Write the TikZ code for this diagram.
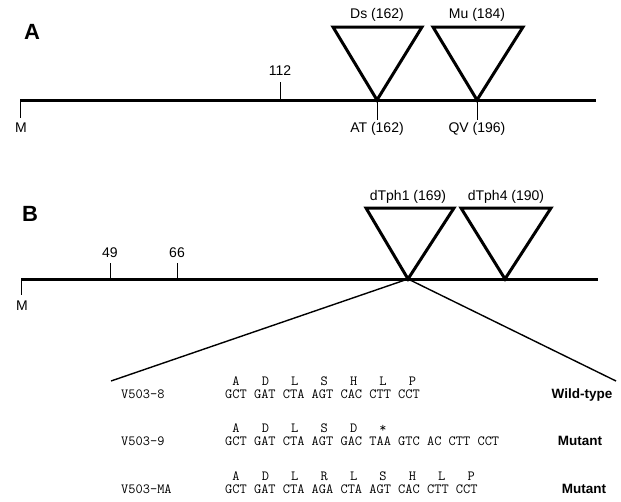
\documentclass[tikz,border=0pt]{standalone}
\usepackage{fontspec}
\setmainfont{Liberation Sans}
\usetikzlibrary{calc}

\begin{document}
\begin{tikzpicture}[x=1pt,y=-1pt,
    gene/.style={line width=3pt},
    insert/.style={line width=3pt, line join=miter},
    tick/.style={line width=1pt},
    fan/.style={line width=1.4pt},
    lbl/.style={font=\fontsize{14}{16}\selectfont, inner sep=0pt},
    panel/.style={font=\fontsize{22}{24}\selectfont\bfseries, inner sep=0pt},
    seq/.style={font=\ttfamily\fontsize{14}{16}\selectfont, inner sep=0pt, anchor=base west},
    aa/.style={font=\ttfamily\fontsize{14}{16}\selectfont, inner sep=0pt, anchor=base},
    kind/.style={font=\fontsize{13.5}{15}\selectfont\bfseries, inner sep=0pt, anchor=base}]
    \useasboundingbox (0,0) rectangle (621,501);

    % --- 1. Panel A: gene line and ticks ---
    \node[panel] (labA) at (32,32) {A};
    \coordinate (A_M) at (20,100);
    \coordinate (A_end) at (596,100);
    \draw[gene] (A_M) -- (A_end);
    \coordinate (A_Mt) at (20,118);
    \draw[tick] (A_M) -- (A_Mt);
    \node[lbl] (A_Ml) at (21,128) {M};
    \coordinate (A_112) at (280,100);
    \coordinate (A_112t) at (280,82);
    \draw[tick] (A_112) -- (A_112t);
    \node[lbl] (A_112l) at (280,71) {112};

    % --- 2. Panel A: Ds and Mu insertions ---
    \coordinate (Ds) at (377,100);
    \coordinate (Ds_l) at (333,27);
    \coordinate (Ds_r) at (422,27);
    \draw[insert] (Ds) -- (Ds_l) -- (Ds_r) -- cycle;
    \node[lbl] (Ds_lbl) at (377,15) {Ds (162)};
    \coordinate (Mu) at (477,100);
    \coordinate (Mu_l) at (433,27);
    \coordinate (Mu_r) at (523,27);
    \draw[insert] (Mu) -- (Mu_l) -- (Mu_r) -- cycle;
    \node[lbl] (Mu_lbl) at (477,15) {Mu (184)};
    \coordinate (AT_t) at (377,120);
    \coordinate (QV_t) at (477,120);
    \draw[tick] (Ds) -- (AT_t);
    \draw[tick] (Mu) -- (QV_t);
    \node[lbl] (AT_lbl) at (377,129) {AT (162)};
    \node[lbl] (QV_lbl) at (477,129) {QV (196)};

    % --- 3. Panel B: gene line and ticks ---
    \node[panel] (labB) at (30,214) {B};
    \coordinate (B_M) at (21,279);
    \coordinate (B_end) at (598,279);
    \draw[gene] (B_M) -- (B_end);
    \coordinate (B_Mt) at (21,295);
    \draw[tick] (B_M) -- (B_Mt);
    \node[lbl] (B_Ml) at (22,306) {M};
    \coordinate (B_49) at (110,279);
    \coordinate (B_49t) at (110,263);
    \draw[tick] (B_49) -- (B_49t);
    \node[lbl] (B_49l) at (110,253) {49};
    \coordinate (B_66) at (177,279);
    \coordinate (B_66t) at (177,263);
    \draw[tick] (B_66) -- (B_66t);
    \node[lbl] (B_66l) at (177,253) {66};

    % --- 4. Panel B: dTph1 and dTph4 insertions ---
    \coordinate (T1) at (408,279);
    \coordinate (T1_l) at (366,208);
    \coordinate (T1_r) at (454,208);
    \draw[insert] (T1) -- (T1_l) -- (T1_r) -- cycle;
    \node[lbl] (T1_lbl) at (408,197) {dTph1 (169)};
    \coordinate (T4) at (505,279);
    \coordinate (T4_l) at (461,208);
    \coordinate (T4_r) at (551,208);
    \draw[insert] (T4) -- (T4_l) -- (T4_r) -- cycle;
    \node[lbl] (T4_lbl) at (506,197) {dTph4 (190)};

    % --- 5. Fan from dTph1 site to the sequences ---
    \coordinate (fan_l) at (111,381);
    \coordinate (fan_r) at (616,381);
    \draw[fan] (fan_l) -- (T1) -- (fan_r);

    % --- 6. Sequences ---
    \def\cx{225}
    \def\cw{7.35}
    \node[seq] (n1) at (121,398) {V503-8};
    \node[seq] (s1) at (\cx,398) {GCT GAT CTA AGT CAC CTT CCT};
    \foreach \a [count=\k from 0] in {A,D,L,S,H,L,P}
        \node[aa] (r1a\k) at (\cx+\cw*4*\k+\cw*1.5,385) {\a};
    \node[kind] (k1) at (582,398) {Wild-type};

    \node[seq] (n2) at (121,445) {V503-9};
    \node[seq] (s2) at (\cx,445) {GCT GAT CTA AGT GAC TAA GTC AC CTT CCT};
    \foreach \a [count=\k from 0] in {A,D,L,S,D,*}
        \node[aa] (r2a\k) at (\cx+\cw*4*\k+\cw*1.5,432) {\a};
    \node[kind] (k2) at (580,445) {Mutant};

    \node[seq] (n3) at (121,493) {V503-MA};
    \node[seq] (s3) at (\cx,493) {GCT GAT CTA AGA CTA AGT CAC CTT CCT};
    \foreach \a [count=\k from 0] in {A,D,L,R,L,S,H,L,P}
        \node[aa] (r3a\k) at (\cx+\cw*4*\k+\cw*1.5,480) {\a};
    \node[kind] (k3) at (584,493) {Mutant};
\end{tikzpicture}
\end{document}
